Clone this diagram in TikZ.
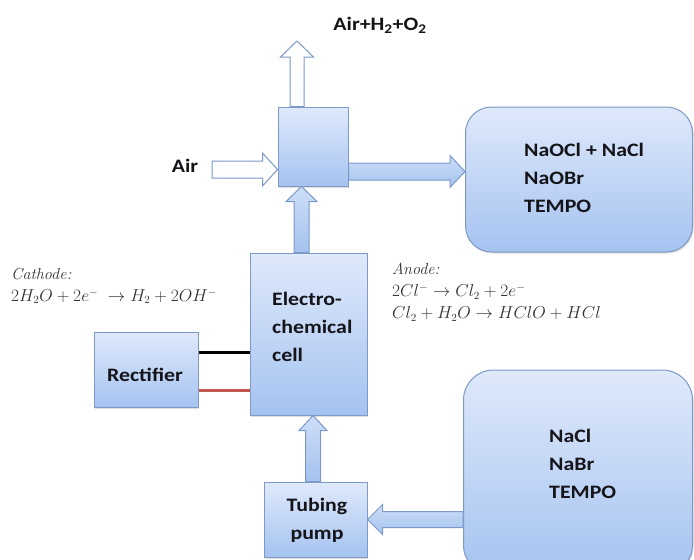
\documentclass[tikz,border=0pt]{standalone}
\usepackage{fontspec}
\usetikzlibrary{calc,shadows}
\newfontfamily\lbl{Carlito}[FakeStretch=1.15]
\definecolor{boxtop}{RGB}{223,233,251}
\definecolor{boxbot}{RGB}{165,195,240}
\definecolor{boxline}{RGB}{125,153,200}
\definecolor{arrtop}{RGB}{205,222,248}
\definecolor{arrbot}{RGB}{165,194,238}
\definecolor{wirered}{RGB}{196,86,82}
\definecolor{txt}{RGB}{20,20,25}
\definecolor{eqtxt}{RGB}{50,50,50}
% horizontal block arrow: tail, tip, shaft half, head half, head length (signed)
\newcommand\hblock[6]{%
  \draw[#6] ($(#1)+(0,#3)$) -- ($(#2)+({-1*(#5)},#3)$) -- ($(#2)+({-1*(#5)},#4)$) -- (#2)
    -- ($(#2)+({-1*(#5)},{-1*(#4)})$) -- ($(#2)+({-1*(#5)},{-1*(#3)})$) -- ($(#1)+(0,{-1*(#3)})$) -- cycle;}
% vertical block arrow pointing up (y grows downward)
\newcommand\vblock[6]{%
  \draw[#6] ($(#1)+(#3,0)$) -- ($(#2)+(#3,#5)$) -- ($(#2)+(#4,#5)$) -- (#2)
    -- ($(#2)+({-1*(#4)},#5)$) -- ($(#2)+({-1*(#3)},#5)$) -- ($(#1)+({-1*(#3)},0)$) -- cycle;}
\begin{document}
\begin{tikzpicture}[x=1pt,y=-1pt,
  box/.style={draw=boxline, line width=1pt, top color=boxtop, bottom color=boxbot,
    inner sep=0pt, drop shadow={shadow xshift=1.2pt, shadow yshift=-1.5pt, opacity=0.25}},
  rbox/.style={box, rounded corners=26pt},
  label/.style={font=\lbl\bfseries\fontsize{19}{28}\selectfont, text=txt, inner sep=0pt, align=left},
  eq/.style={font=\fontsize{16}{22}\selectfont, text=eqtxt, inner sep=0pt, align=left, xscale=1.01, transform shape},
  bluearrow/.style={draw=boxline, line width=1pt, top color=arrtop, bottom color=arrbot, line join=miter},
  whitearrow/.style={draw=boxline, line width=1pt, top color=white, bottom color=white!90!boxtop, line join=miter},
  wire/.style={line width=3pt}
]
\useasboundingbox (0,0) rectangle (694,560);
\fill[white] (0,0) rectangle (694,560);

% boxes
\node[box, minimum width=70pt, minimum height=79pt] (mixer) at (313,146.5) {};
\node[rbox, minimum width=227pt, minimum height=145pt] (outbox) at (579,179.5) {};
\node[box, minimum width=117pt, minimum height=162pt] (cell) at (308.5,334) {};
\node[box, minimum width=104pt, minimum height=75pt] (rect) at (146,369.5) {};
\node[box, minimum width=103pt, minimum height=75pt] (pump) at (315.5,519.5) {};
\node[rbox, rounded corners=30pt, minimum width=229pt, minimum height=205pt] (inbox) at (578,472.5) {};

% texts
\node[label, anchor=west] (outtxt) at (524,178) {NaOCl + NaCl\\NaOBr\\TEMPO};
\node[label, anchor=west] (intxt) at (549,464) {NaCl\\NaBr\\TEMPO};
\node[label, anchor=west] (celltxt) at (272,327) {Electro-\\chemical\\cell};
\node[label] (recttxt) at (145,375) {Rectifier};
\node[label, align=center] (pumptxt) at (317,520) {Tubing\\pump};
\node[label] (airtxt) at (185,166) {Air};
\node[label] (exhtxt) at (380,25) {Air+H\textsubscript{2}+O\textsubscript{2}};
\node[eq, anchor=west] (cath) at (11,286) {\textit{Cathode:}\\$2H_2O+2e^-\;\rightarrow H_2+2OH^-$};
\node[eq, anchor=west] (anode) at (392,292) {\textit{Anode:}\\$2Cl^-\rightarrow Cl_2+2e^-$\\$Cl_2+H_2O\rightarrow HClO+HCl$};

% arrow end points
\coordinate (exh) at (297,41);
\coordinate (mtop) at ($(mixer.north)+(-16,0)$);
\coordinate (airin) at (212,169.5);
\coordinate (mwest) at (mixer.west |- airin);
\coordinate (meast) at ($(mixer.east)+(0,25)$);
\coordinate (owest) at (outbox.west |- meast);
\coordinate (cnorth) at (cell.north -| 301.5,0);
\coordinate (msouth) at (mixer.south -| cnorth);
\coordinate (pnorth) at (pump.north -| 313,0);
\coordinate (csouth) at (cell.south -| pnorth);
\coordinate (iwest) at (inbox.west |- pump.east);

% block arrows
\vblock{mtop}{exh}{7}{16.5}{16}{whitearrow}
\hblock{airin}{mwest}{8.5}{16.5}{15}{whitearrow}
\hblock{meast}{owest}{8.5}{16}{15}{bluearrow}
\vblock{cnorth}{msouth}{7.5}{15.5}{15}{bluearrow}
\vblock{pnorth}{csouth}{7.5}{14}{15}{bluearrow}
\hblock{iwest}{pump.east}{8}{15}{-15}{bluearrow}

% wires
\draw[wire, black] ($(rect.east)+(0,-17.5)$) -- ($(cell.west |- rect.east)+(0,-17.5)$);
\draw[wire, wirered] ($(rect.east)+(0,20.5)$) -- ($(cell.west |- rect.east)+(0,20.5)$);
\end{tikzpicture}
\end{document}
